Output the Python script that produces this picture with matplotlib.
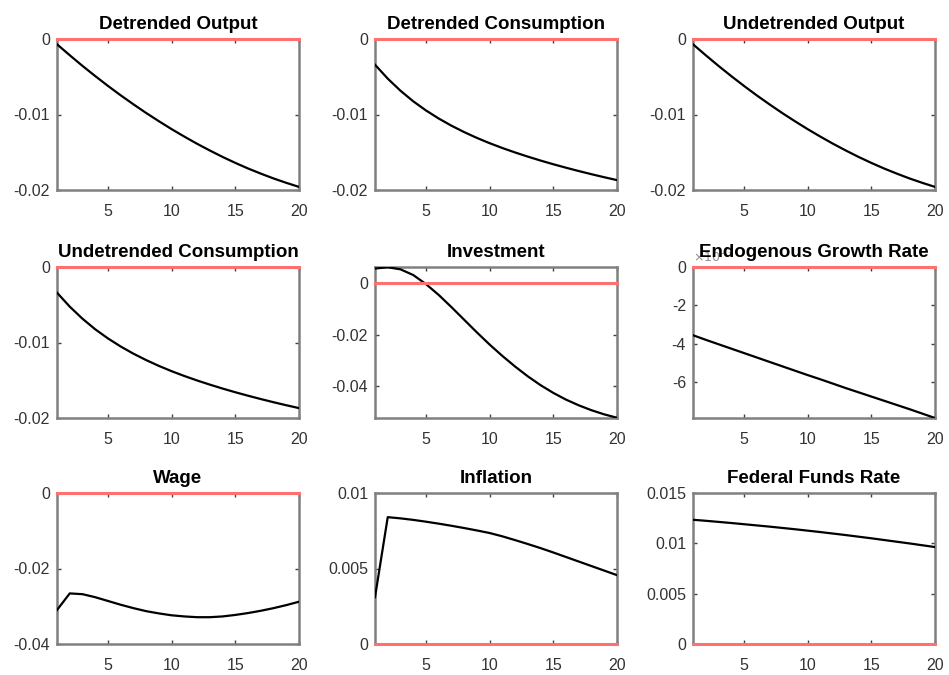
import matplotlib.pyplot as plt
from matplotlib.ticker import FuncFormatter

plt.rcParams['font.family'] = ['Liberation Sans', 'DejaVu Sans']
plt.rcParams['axes.unicode_minus'] = False

periods = list(range(1, 21))

detrended_output = [-0.0007, -0.00215, -0.00356, -0.00491, -0.00621, -0.00746, -0.00865, -0.00980, -0.01089, -0.01194,
                    -0.01293, -0.01388, -0.01477, -0.01562, -0.01641, -0.01715, -0.01783, -0.01847, -0.01905, -0.01959]
detrended_consumption = [-0.00340, -0.00525, -0.00685, -0.00825, -0.00946, -0.01053, -0.01148, -0.01233, -0.01310, -0.01380,
                         -0.01444, -0.01503, -0.01558, -0.01610, -0.01659, -0.01705, -0.01749, -0.01791, -0.01831, -0.01869]
undetrended_output = [-0.0007, -0.00215, -0.00356, -0.00491, -0.00621, -0.00746, -0.00865, -0.00980, -0.01089, -0.01194,
                      -0.01293, -0.01388, -0.01477, -0.01562, -0.01641, -0.01715, -0.01783, -0.01847, -0.01905, -0.01959]
undetrended_consumption = [-0.00340, -0.00525, -0.00685, -0.00825, -0.00946, -0.01053, -0.01148, -0.01233, -0.01310, -0.01380,
                           -0.01444, -0.01503, -0.01558, -0.01610, -0.01659, -0.01705, -0.01749, -0.01791, -0.01831, -0.01869]
investment = [0.0056, 0.0061, 0.0053, 0.0031, -0.0004, -0.0046, -0.0093, -0.0142, -0.0191, -0.0238,
              -0.0282, -0.0323, -0.0361, -0.0395, -0.0425, -0.0451, -0.0473, -0.0492, -0.0508, -0.0521]
growth_rate = [-0.00356, -0.00380, -0.00403, -0.00426, -0.00449, -0.00472, -0.00495, -0.00518, -0.00541, -0.00564,
               -0.00586, -0.00609, -0.00632, -0.00654, -0.00676, -0.00698, -0.00720, -0.00742, -0.00765, -0.00788]
wage = [-0.0310, -0.0266, -0.0268, -0.0276, -0.0286, -0.0296, -0.0305, -0.0313, -0.0319, -0.0324,
        -0.0327, -0.0329, -0.0329, -0.0327, -0.0323, -0.0318, -0.0312, -0.0305, -0.0297, -0.0288]
inflation = [0.0031, 0.00840, 0.00832, 0.00822, 0.00810, 0.00797, 0.00783, 0.00768, 0.00752, 0.00735,
             0.00713, 0.00688, 0.00662, 0.00635, 0.00606, 0.00576, 0.00546, 0.00516, 0.00486, 0.00456]
fed_funds = [0.01234, 0.01224, 0.01213, 0.01202, 0.01190, 0.01178, 0.01166, 0.01153, 0.01140, 0.01126,
             0.01112, 0.01097, 0.01082, 0.01066, 0.01050, 0.01033, 0.01016, 0.00999, 0.00981, 0.00963]

titles = ['Detrended Output', 'Detrended Consumption', 'Undetrended Output',
          'Undetrended Consumption', 'Investment', 'Endogenous Growth Rate',
          'Wage', 'Inflation', 'Federal Funds Rate']
series = [detrended_output, detrended_consumption, undetrended_output,
          undetrended_consumption, investment, growth_rate,
          wage, inflation, fed_funds]
ylims = [(-0.02, 0), (-0.02, 0), (-0.02, 0),
         (-0.02, 0), (min(investment) - 0.0001, max(investment) + 0.0001), (min(growth_rate), 0),
         (-0.04, 0), (0, 0.01), (0, 0.015)]
yticks = [[-0.02, -0.01, 0], [-0.02, -0.01, 0], [-0.02, -0.01, 0],
          [-0.02, -0.01, 0], [-0.04, -0.02, 0], [-0.006, -0.004, -0.002, 0],
          [-0.04, -0.02, 0], [0, 0.005, 0.01], [0, 0.005, 0.01, 0.015]]

W, H = 949, 675
fig = plt.figure(figsize=(W / 100, H / 100), dpi=100)
lefts = [57, 375, 693]
tops = [39, 267, 493]
aw, ah = 242, 151
frame = '#808080'

for i in range(9):
    r, c = divmod(i, 3)
    ax = fig.add_axes([lefts[c] / W, 1 - (tops[r] + ah) / H, aw / W, ah / H])
    ax.plot(periods, series[i], color='black', lw=1.6, zorder=3)
    ax.axhline(0, color='#ff7070', lw=2.2, zorder=4, clip_on=False)
    ax.set_xlim(1, 20)
    ax.set_ylim(*ylims[i])
    ax.set_xticks([5, 10, 15, 20])
    ax.set_yticks(yticks[i])
    if i == 5:
        ax.yaxis.set_major_formatter(FuncFormatter(lambda v, p: '%g' % round(v * 1000, 6)))
        ax.text(0.0, 1.01, r'$\times10^{-3}$', transform=ax.transAxes, fontsize=9,
                color='#909090', va='bottom', ha='left')
    else:
        ax.yaxis.set_major_formatter(FuncFormatter(lambda v, p: '%g' % round(v, 6)))
    for s in ax.spines.values():
        s.set_color(frame)
        s.set_linewidth(1.8)
    ax.tick_params(direction='in', top=True, right=True, length=3, width=1,
                   color='#404040', labelsize=11.5, labelcolor='#333333', pad=5)
    ax.tick_params(axis='x', pad=10)
    ax.set_title(titles[i], fontsize=13.5, fontweight='bold', pad=7)

fig.savefig('out.png', dpi=100)
